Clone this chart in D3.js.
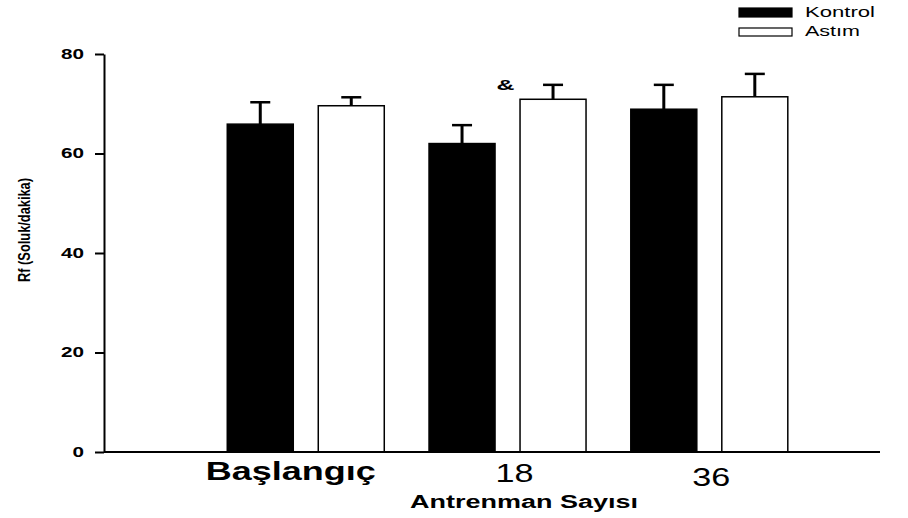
<!DOCTYPE html>
<html><head><meta charset="utf-8">
<script src="https://cdn.jsdelivr.net/npm/d3@7"></script>
<style>body{margin:0;background:#fff}svg{display:block}text{font-family:"Liberation Sans",Arial,sans-serif}</style>
</head><body><svg id="c" width="908" height="518"></svg>
<script>
const categories = ["Başlangıç", "18", "36"];
const seriesNames = ["Kontrol", "Astım"];
const kontrolMean = [65.9, 62.0, 68.9];
const kontrolErr = [4.4, 3.7, 4.9];
const astimMean = [69.6, 70.9, 71.4];
const astimErr = [1.7, 2.9, 4.6];
const yTicks = [0, 20, 40, 60, 80];
const marks = ["", "&", ""];

const svg = d3.select("#c");
const x = d3.scaleLinear().domain([-1, 2.846]).range([104, 880]);
const y = d3.scaleLinear().domain([0, 80]).range([452, 54]);
const barW = 66, off = 45.5;
const series = [
  {name: seriesNames[0], mean: kontrolMean, err: kontrolErr, fill: "#000", dx: -off},
  {name: seriesNames[1], mean: astimMean, err: astimErr, fill: "#fff", dx: off}
];

series.forEach(s => {
  const g = svg.append("g");
  g.selectAll("line.e").data(categories).join("line")
    .attr("x1", (d,i) => x(i) + s.dx).attr("x2", (d,i) => x(i) + s.dx)
    .attr("y1", (d,i) => y(s.mean[i])).attr("y2", (d,i) => y(s.mean[i] + s.err[i]))
    .attr("stroke", "#000").attr("stroke-width", 3);
  g.selectAll("line.c").data(categories).join("line")
    .attr("x1", (d,i) => x(i) + s.dx - 10).attr("x2", (d,i) => x(i) + s.dx + 10)
    .attr("y1", (d,i) => y(s.mean[i] + s.err[i])).attr("y2", (d,i) => y(s.mean[i] + s.err[i]))
    .attr("stroke", "#000").attr("stroke-width", 2.5);
  g.selectAll("rect").data(categories).join("rect")
    .attr("x", (d,i) => x(i) + s.dx - barW/2)
    .attr("y", (d,i) => y(s.mean[i]))
    .attr("width", barW)
    .attr("height", (d,i) => y(0) - y(s.mean[i]))
    .attr("fill", s.fill).attr("stroke", "#000").attr("stroke-width", 1.5);
});

// significance marks
svg.selectAll("text.mark").data(marks).join("text")
  .attr("x", (d,i) => x(i) - 2).attr("y", 90)
  .attr("text-anchor", "middle").attr("font-weight", "bold").attr("font-size", 14)
  .attr("textLength", d => d ? 18 : null).attr("lengthAdjust", "spacingAndGlyphs")
  .text(d => d);

// y axis
const ya = svg.append("g").attr("transform", "translate(104,0)")
  .call(d3.axisLeft(y).tickValues(yTicks).tickSize(9).tickSizeOuter(0).tickPadding(11));
ya.select(".domain").attr("stroke-width", 2);
ya.selectAll(".tick line").attr("stroke-width", 2);
ya.selectAll(".tick text").attr("font-size", 14).attr("font-weight", "bold").attr("fill", "#000")
  .attr("textLength", d => String(d).length * 11.5).attr("lengthAdjust", "spacingAndGlyphs")
  .style("font-family", "Liberation Sans, Arial, sans-serif");

// x axis line
svg.append("line").attr("x1", x.range()[0]).attr("x2", x.range()[1])
  .attr("y1", y(0)).attr("y2", y(0)).attr("stroke", "#000").attr("stroke-width", 2);

// x category labels
const lblDx = [-15, 7, 2];
const lblY = [480, 482, 486];
const lblLen = [170, 38, 38];
svg.selectAll("text.cat").data(categories).join("text")
  .attr("x", (d,i) => x(i) + lblDx[i]).attr("y", (d,i) => lblY[i])
  .attr("text-anchor", "middle")
  .attr("font-size", (d,i) => i === 0 ? 25 : 26)
  .attr("font-weight", (d,i) => i === 0 ? "bold" : "normal")
  .attr("textLength", (d,i) => lblLen[i]).attr("lengthAdjust", "spacingAndGlyphs")
  .text(d => d);

// axis titles
svg.append("text").attr("x", 524).attr("y", 508).attr("text-anchor", "middle")
  .attr("font-size", 18).attr("font-weight", "bold")
  .attr("textLength", 228).attr("lengthAdjust", "spacingAndGlyphs").text("Antrenman Sayısı");
svg.append("text").attr("transform", "translate(30,230) rotate(-90)")
  .attr("text-anchor", "middle").attr("font-size", 17).attr("font-weight", "bold")
  .attr("textLength", 104).attr("lengthAdjust", "spacingAndGlyphs")
  .text("Rf (Soluk/dakika)");

// legend
const legLen = [70, 55];
const leg = svg.append("g");
series.forEach((s, i) => {
  leg.append("rect").attr("x", 739).attr("y", i === 0 ? 8 : 28).attr("width", 53).attr("height", i === 0 ? 9 : 8)
    .attr("fill", s.fill).attr("stroke", "#000").attr("stroke-width", 1.2);
  leg.append("text").attr("x", 805).attr("y", 17 + i * 19).attr("font-size", 14)
    .attr("textLength", legLen[i]).attr("lengthAdjust", "spacingAndGlyphs").text(s.name);
});
</script></body></html>
